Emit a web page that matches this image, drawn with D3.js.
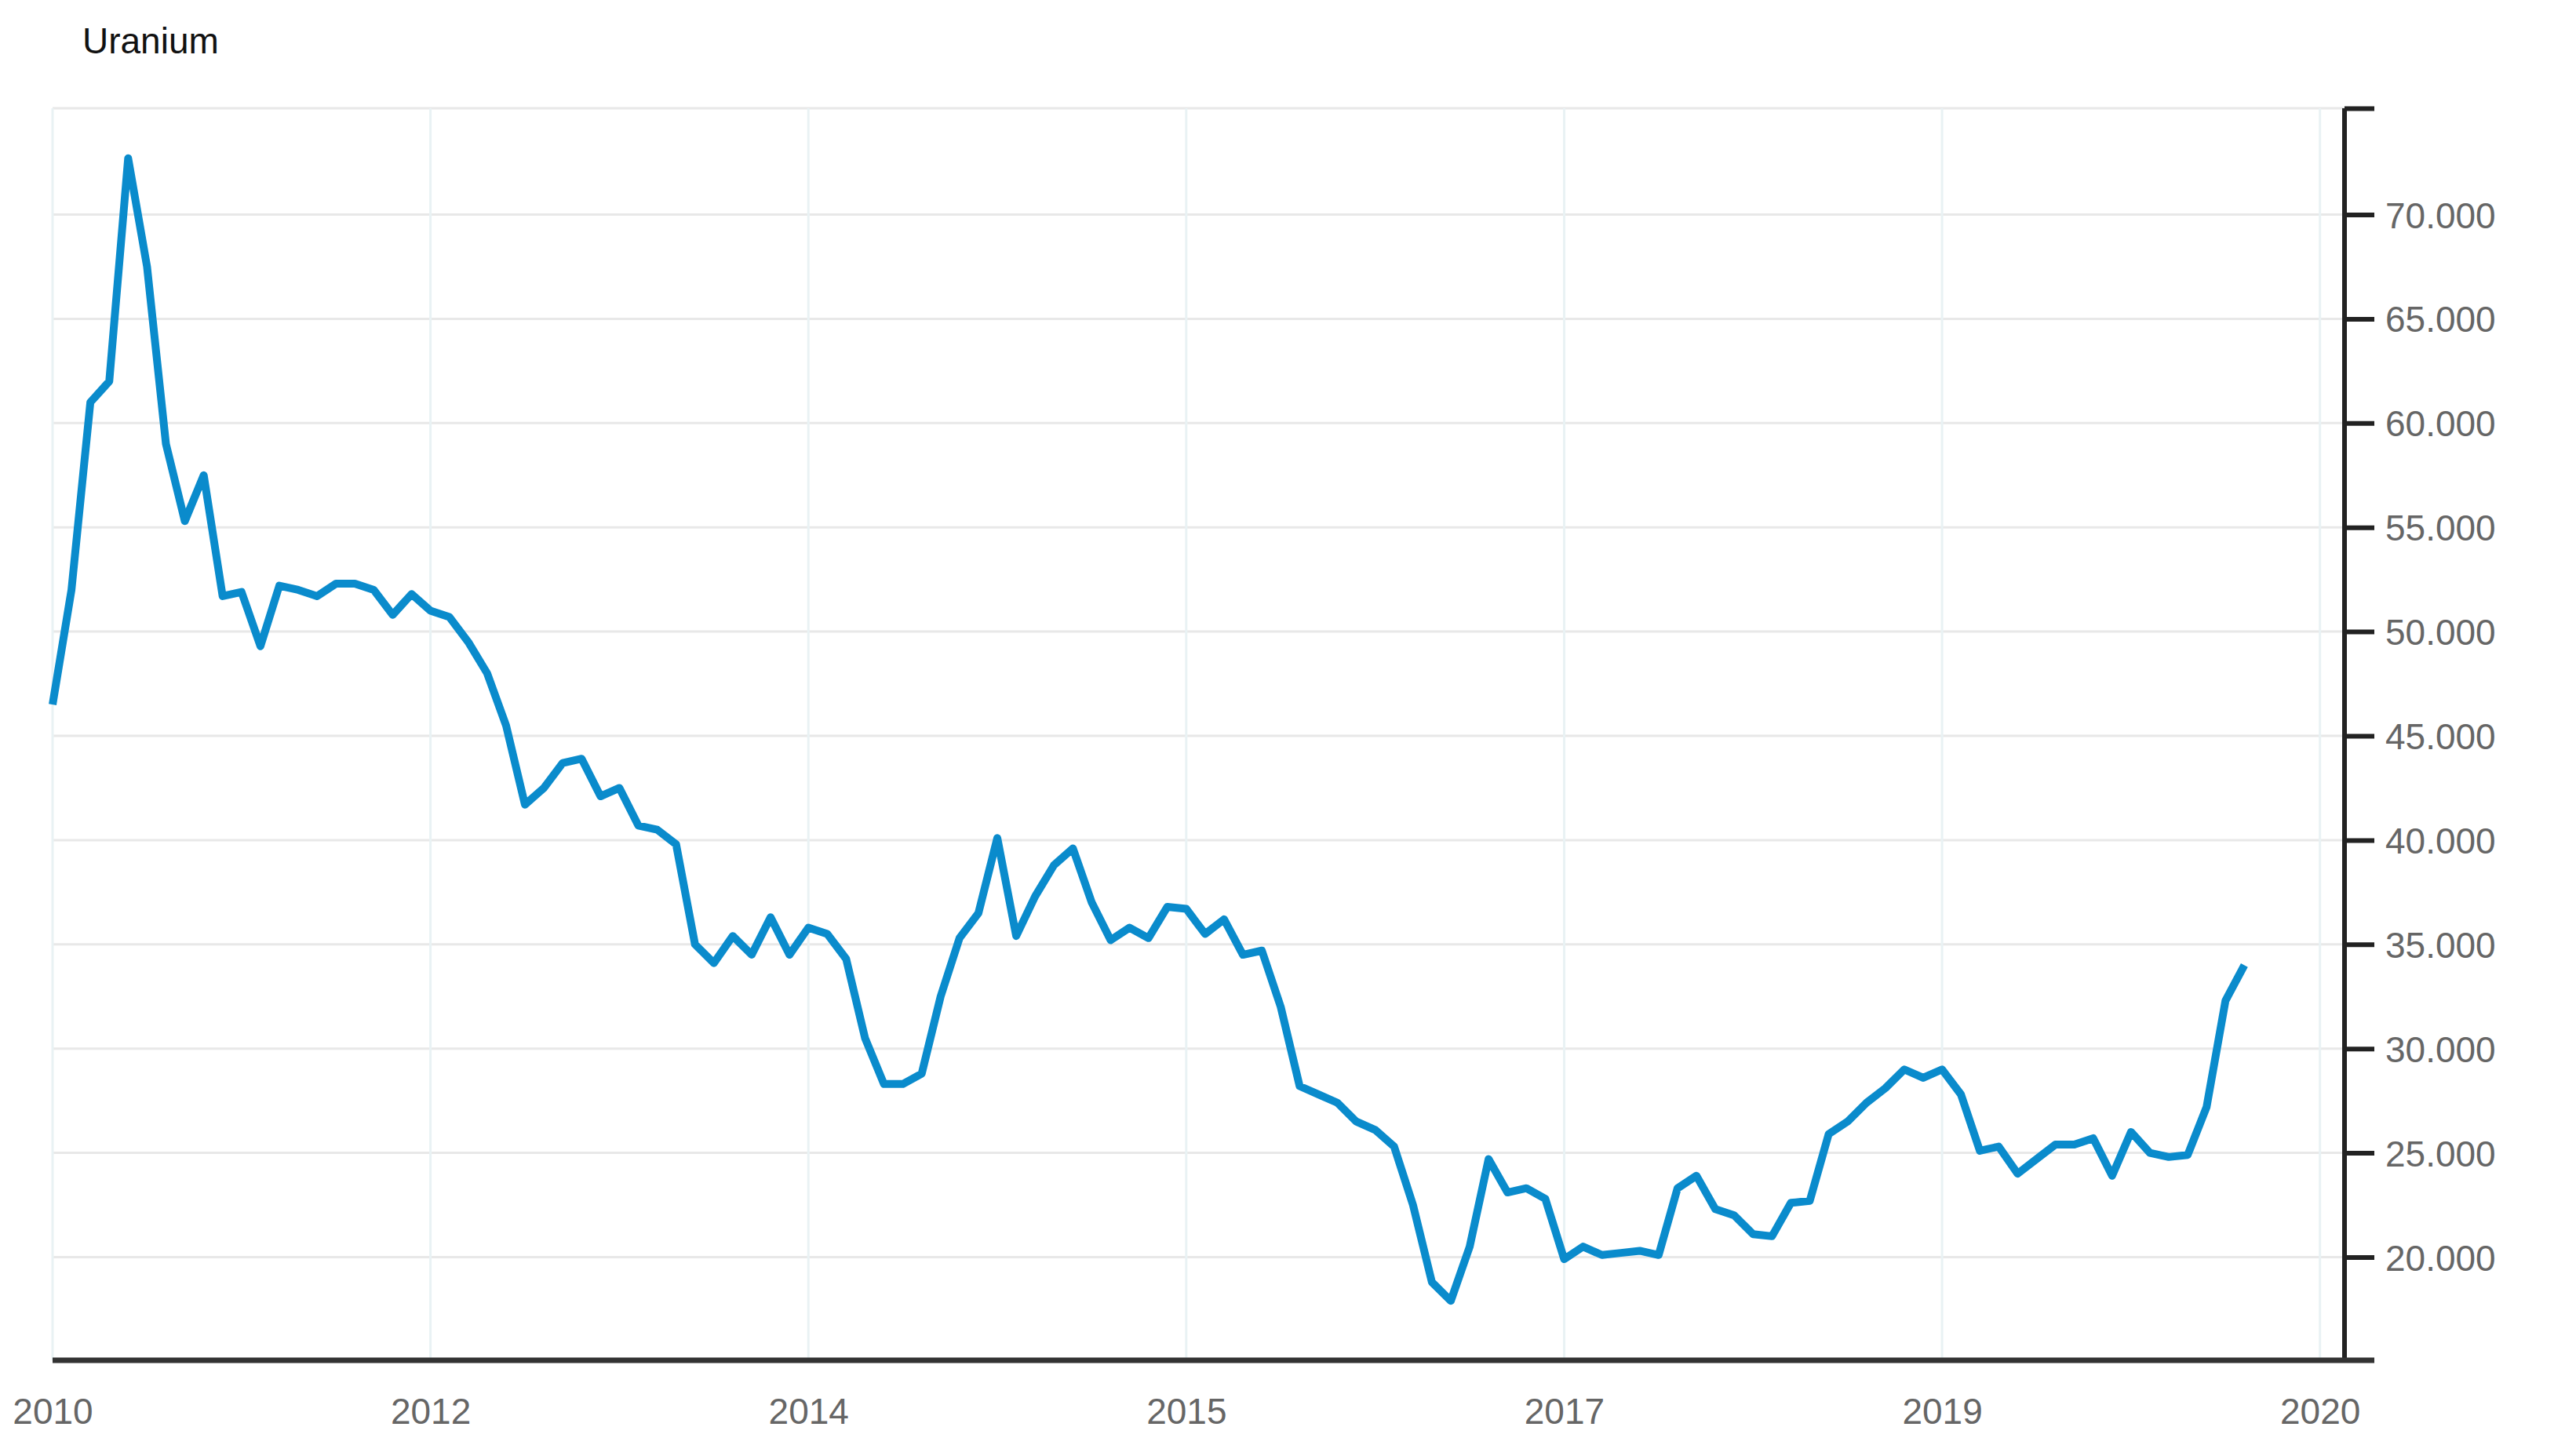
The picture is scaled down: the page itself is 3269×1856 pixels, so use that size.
<!DOCTYPE html>
<html><head><meta charset="utf-8">
<script src="https://cdn.jsdelivr.net/npm/d3@7"></script>
<style>body{margin:0;background:#fff}</style></head>
<body><svg id="c" width="3269" height="1856"></svg>
<script>
const title = "Uranium";
const values = [46.5,52,61,62,72.7,67.5,59,55.3,57.5,51.7,51.9,49.3,52.2,52.0,51.7,52.3,52.3,52.0,50.8,51.8,
51.0,50.7,49.5,48.0,45.5,41.7,42.5,43.7,43.9,42.1,42.5,40.7,40.5,39.8,35.0,34.1,35.4,34.5,36.3,34.5,
35.8,35.5,34.3,30.5,28.3,28.3,28.8,32.5,35.3,36.5,40.1,35.4,37.3,38.8,39.6,37.0,35.2,35.8,35.3,36.8,
36.7,35.5,36.2,34.5,34.7,32.0,28.2,27.8,27.4,26.5,26.1,25.3,22.5,18.8,17.9,20.5,24.7,23.1,23.3,22.8,
19.9,20.5,20.1,20.2,20.3,20.1,23.3,23.9,22.3,22.0,21.1,21.0,22.6,22.7,25.9,26.5,27.4,28.1,29.0,28.6,
29.0,27.8,25.1,25.3,24.0,24.7,25.4,25.4,25.7,23.9,26.0,25.0,24.8,24.9,27.2,32.3,34.0];
const xTickIdx = [0,20,40,60,80,100,120];
const xTickLabels = ["2010","2012","2014","2015","2017","2019","2020"];
const yTicks = [20,25,30,35,40,45,50,55,60,65,70];

const L=67,R=2988,T=138,B=1734;
const svg=d3.select("#c");
const x=d3.scaleLinear().domain([0,121.3]).range([L,R]);
const y=d3.scaleLinear().domain([15.05,75.1]).range([B,T]);

svg.append("g").selectAll("line").data(yTicks.concat([75.1])).join("line")
 .attr("x1",L).attr("x2",R).attr("y1",d=>y(d)).attr("y2",d=>y(d))
 .attr("stroke","#e8e8e8").attr("stroke-width",3);
svg.append("g").selectAll("line").data(xTickIdx).join("line")
 .attr("x1",d=>x(d)).attr("x2",d=>x(d)).attr("y1",T).attr("y2",B)
 .attr("stroke","#e9f2f4").attr("stroke-width",3);

svg.append("path").datum(values)
 .attr("d",d3.line().x((d,i)=>x(i)).y(d=>y(d)))
 .attr("fill","none").attr("stroke","#0a8bcc").attr("stroke-width",10).attr("stroke-linejoin","round");

const ya=svg.append("g").attr("transform",`translate(${R},0)`)
 .call(d3.axisRight(y).tickValues(yTicks.concat([75.1])).tickSize(38).tickPadding(14));
ya.selectAll("text").text(d=>d>75?"":d+".000");
ya.select(".domain").attr("stroke","#222").attr("stroke-width",6).attr("d",`M0,${T}V${B}`);
ya.selectAll(".tick line").attr("stroke","#222").attr("stroke-width",6);
ya.selectAll("text").attr("fill","#666").attr("font-size",46).attr("font-family","Liberation Sans, Arial").attr("dy","0.36em");

const xa=svg.append("g").attr("transform",`translate(0,${B})`)
 .call(d3.axisBottom(x).tickValues(xTickIdx).tickSize(0).tickPadding(48).tickFormat((d,i)=>xTickLabels[i]));
xa.select(".domain").attr("stroke","#333").attr("stroke-width",7).attr("d",`M${L},0H${R+38}`);
xa.selectAll("text").attr("fill","#666").attr("font-size",46).attr("font-family","Liberation Sans, Arial");

svg.append("text").attr("x",105).attr("y",68).text(title)
 .attr("font-size",46).attr("font-family","Liberation Sans, Arial").attr("fill","#111");
</script></body></html>
